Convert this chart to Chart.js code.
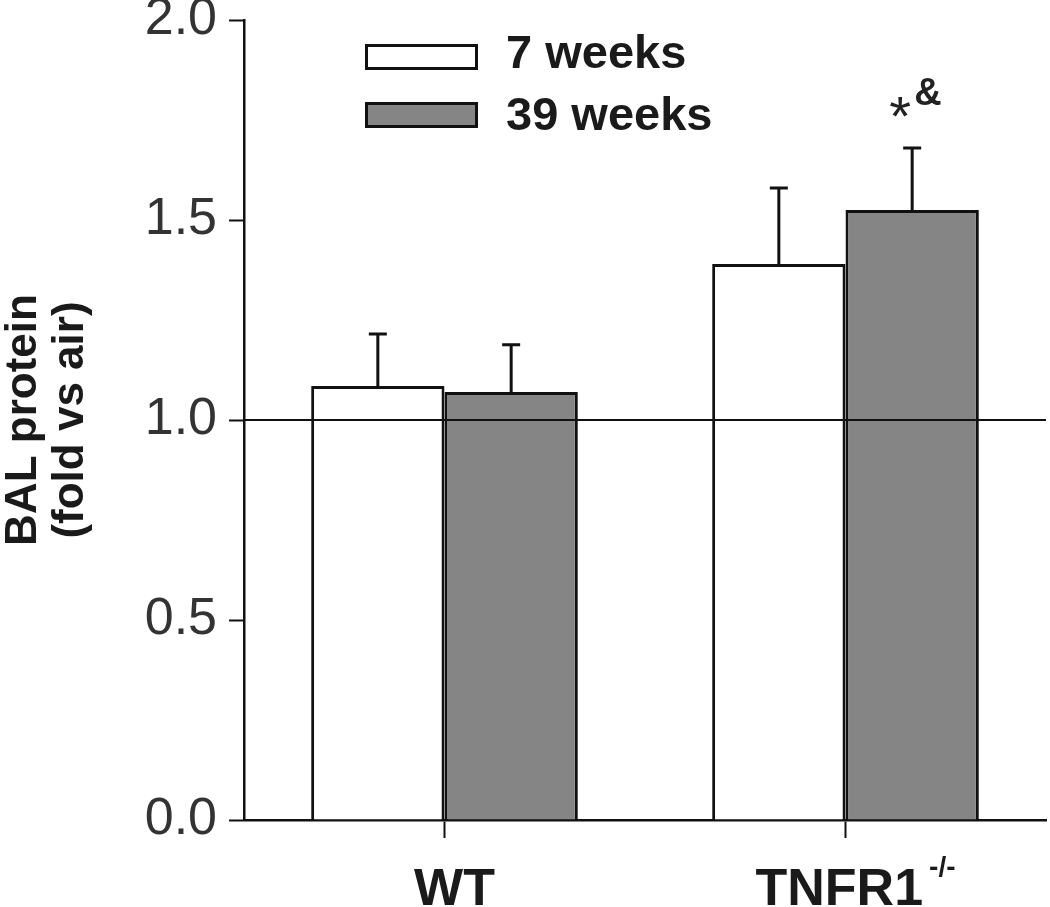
<!DOCTYPE html>
<html><head><meta charset="utf-8">
<script src="https://cdn.jsdelivr.net/npm/chart.js@4/dist/chart.umd.min.js"></script>
<style>html,body{margin:0;padding:0;background:#fff}#wrap{width:1050px;height:907px}</style>
</head><body><div id="wrap"><canvas id="c" width="1050" height="907"></canvas></div>
<script>
const categories = ['WT', 'TNFR1'];
const categorySuperscripts = ['', '-/-'];
const seriesLabels = ['7 weeks', '39 weeks'];
const weeks7 = [1.085, 1.39];
const weeks39 = [1.07, 1.525];
const weeks7Err = [0.13, 0.19];
const weeks39Err = [0.118, 0.155];
const yTicks = [0, 0.5, 1.0, 1.5, 2.0];
const referenceValue = 1.0;
const sigStar = ['', '*'];
const sigAmp = ['', '&'];
const yTitle = ['BAL protein', '(fold vs air)'];

const FONT = '"Liberation Sans", Arial, Helvetica, sans-serif';
const errors = [weeks7Err, weeks39Err];

const extras = {
  id: 'extras',
  afterDatasetsDraw(chart) {
    const ctx = chart.ctx;
    const ys = chart.scales.y, xs = chart.scales.x;
    const area = chart.chartArea;
    ctx.save();
    // reference line
    const ry = ys.getPixelForValue(referenceValue);
    ctx.strokeStyle = '#111';
    ctx.lineWidth = 2;
    ctx.beginPath();
    ctx.moveTo(area.left, ry);
    ctx.lineTo(area.right, ry);
    ctx.stroke();
    // error bars (upper only)
    ctx.lineWidth = 3;
    chart.data.datasets.forEach((ds, di) => {
      const meta = chart.getDatasetMeta(di);
      meta.data.forEach((bar, i) => {
        const top = ys.getPixelForValue(ds.data[i] + errors[di][i]);
        ctx.beginPath();
        ctx.moveTo(bar.x, bar.y);
        ctx.lineTo(bar.x, top);
        ctx.moveTo(bar.x - 9, top);
        ctx.lineTo(bar.x + 9, top);
        ctx.stroke();
        if (di === 1 && sigStar[i]) {
          ctx.fillStyle = '#222';
          ctx.font = 'normal 56px ' + FONT;
          ctx.textAlign = 'right';
          ctx.textBaseline = 'alphabetic';
          ctx.fillText(sigStar[i], bar.x - 1, top - 13);
          ctx.font = 'bold 38px ' + FONT;
          ctx.textAlign = 'left';
          ctx.fillText(sigAmp[i], bar.x + 2, top - 43);
        }
      });
    });
    // legend
    const boxes = [[365, 44], [365, 102]];
    const base = [68, 130];
    chart.data.datasets.forEach((ds, di) => {
      const [bx, by] = boxes[di];
      ctx.fillStyle = ds.backgroundColor;
      ctx.fillRect(bx, by, 113, 26);
      ctx.strokeStyle = '#111';
      ctx.lineWidth = 3;
      ctx.strokeRect(bx + 1.5, by + 1.5, 110, 23);
      ctx.fillStyle = '#1a1a1a';
      ctx.font = 'bold 47px ' + FONT;
      ctx.textAlign = 'left';
      ctx.textBaseline = 'alphabetic';
      ctx.fillText(ds.label, 506, base[di]);
    });
    // category labels
    chart.data.labels.forEach((lab, i) => {
      const x = xs.getPixelForValue(i);
      ctx.font = 'bold 52px ' + FONT;
      const w = ctx.measureText(lab).width;
      ctx.font = 'bold 28px ' + FONT;
      const sw = categorySuperscripts[i] ? ctx.measureText(categorySuperscripts[i]).width + 6 : 0;
      const start = x + 10 - (w + sw) / 2;
      ctx.fillStyle = '#1a1a1a';
      ctx.textAlign = 'left';
      ctx.textBaseline = 'alphabetic';
      ctx.font = 'bold 52px ' + FONT;
      ctx.fillText(lab, start, 905);
      if (categorySuperscripts[i]) {
        ctx.font = 'bold 28px ' + FONT;
        ctx.fillText(categorySuperscripts[i], start + w + 6, 876);
      }
    });
    ctx.restore();
  }
};

new Chart(document.getElementById('c'), {
  type: 'bar',
  data: {
    labels: categories,
    datasets: [
      { label: seriesLabels[0], data: weeks7, backgroundColor: '#ffffff', borderColor: '#111', borderWidth: 3 },
      { label: seriesLabels[1], data: weeks39, backgroundColor: '#858585', borderColor: '#111', borderWidth: 3 }
    ]
  },
  options: {
    responsive: false,
    animation: false,
    devicePixelRatio: 1,
    layout: { padding: { top: 20, right: 4, left: 0, bottom: 0 } },
    plugins: { legend: { display: false }, tooltip: { enabled: false } },
    datasets: { bar: { categoryPercentage: 0.665, barPercentage: 1 } },
    scales: {
      x: {
        z: 1,
        offset: true,
        grid: { display: true, offset: false, drawOnChartArea: false, drawTicks: true, tickLength: 18, tickWidth: 2, tickColor: '#111' },
        border: { display: true, color: '#111', width: 2.5 },
        ticks: { display: false },
        afterFit(s) { s.height = 87; }
      },
      y: {
        min: 0, max: 2,
        afterBuildTicks(s) { s.ticks = yTicks.map(v => ({ value: v })); },
        grid: { display: true, drawOnChartArea: false, drawTicks: true, tickLength: 15, tickWidth: 2, tickColor: '#111' },
        border: { display: true, color: '#111', width: 2.5 },
        ticks: {
          padding: 12,
          color: '#333',
          font: { family: FONT, size: 52, lineHeight: 0.25 },
          callback: v => Number(v).toFixed(1)
        },
        title: {
          display: true,
          text: yTitle,
          color: '#1a1a1a',
          padding: { top: 0, bottom: 0 },
          font: { family: FONT, size: 44, weight: 'bold', lineHeight: 1.08 }
        },
        afterFit(s) { s.width = 244; }
      }
    }
  },
  plugins: [extras]
});
</script></body></html>
